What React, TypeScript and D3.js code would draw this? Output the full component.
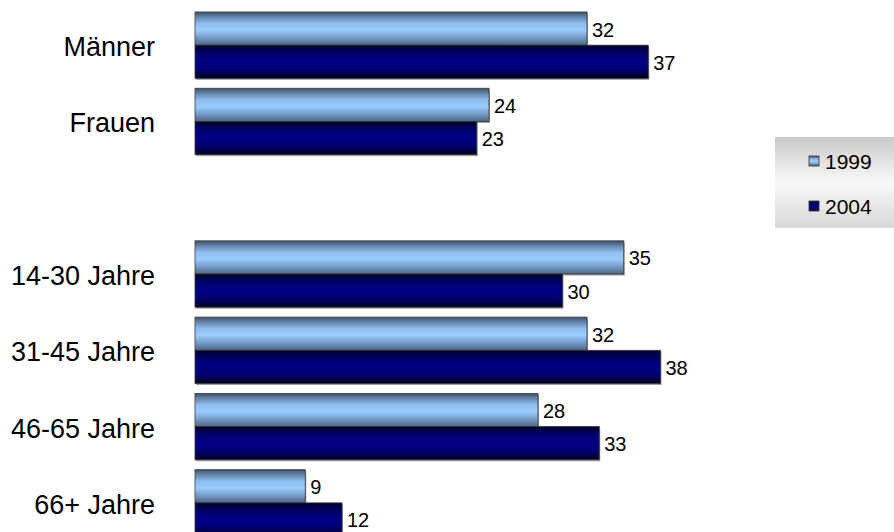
import React from "react";
import * as d3 from "d3";

const categories = ["Männer", "Frauen", "", "14-30 Jahre", "31-45 Jahre", "46-65 Jahre", "66+ Jahre"];
const values1999 = [32, 24, null, 35, 32, 28, 9];
const values2004 = [37, 23, null, 30, 38, 33, 12];
const seriesNames = ["1999", "2004"];

const W = 894;
const H = 532;

export default function App() {
  const x = d3.scaleLinear().domain([0, 40]).range([195, 685]);
  const keys = categories.map((c, i) => c + "#" + i);
  const y = d3.scaleBand<string>().domain(keys).range([7, 541]).paddingInner(0.13).paddingOuter(0.065);
  const bw = y.bandwidth();
  const sub = bw / 2;
  const series = [values1999, values2004];
  const fills = ["url(#g1999)", "url(#g2004)"];

  return (
    <svg width={W} height={H} style={{ position: "absolute", left: 0, top: 0, fontFamily: "Arial, 'Liberation Sans', sans-serif" }}>
      <defs>
        <linearGradient id="g1999" x1="0" y1="0" x2="0" y2="1">
          <stop offset="0" stopColor="#3e5068" />
          <stop offset="0.15" stopColor="#6584a8" />
          <stop offset="0.35" stopColor="#8fbef0" />
          <stop offset="0.55" stopColor="#99ccff" />
          <stop offset="0.8" stopColor="#7196c0" />
          <stop offset="1" stopColor="#4d6482" />
        </linearGradient>
        <linearGradient id="g2004" x1="0" y1="0" x2="0" y2="1">
          <stop offset="0" stopColor="#000028" />
          <stop offset="0.2" stopColor="#000060" />
          <stop offset="0.45" stopColor="#000085" />
          <stop offset="0.7" stopColor="#000078" />
          <stop offset="1" stopColor="#000025" />
        </linearGradient>
        <linearGradient id="gLegend" x1="0" y1="0" x2="0" y2="1">
          <stop offset="0" stopColor="#c8c8c8" />
          <stop offset="0.5" stopColor="#f8f8f8" />
          <stop offset="1" stopColor="#d8d8d8" />
        </linearGradient>
      </defs>
      <rect x={0} y={0} width={W} height={H} fill="#ffffff" />
      {categories.map((c, i) => {
        const key = keys[i];
        const y0 = y(key)!;
        return (
          <g key={key}>
            {c && (
              <text x={155} y={y0 + bw / 2 + 2} textAnchor="end" dominantBaseline="central" fontSize={27} fill="#000">
                {c}
              </text>
            )}
            {series.map((s, j) => {
              const v = s[i];
              if (v == null) return null;
              const by = y0 + j * sub;
              const bx = x(0);
              const w = x(v) - x(0);
              return (
                <g key={j}>
                  <rect x={bx + 1} y={by + 1.5} width={w} height={sub} fill="#9a9a9a" />
                  <rect x={bx} y={by} width={w} height={sub} fill={fills[j]} stroke="#3a3a3a" strokeWidth={0.8} />
                  <text x={x(v) + 5} y={by + sub / 2 + 1} dominantBaseline="central" fontSize={20} fill="#000">
                    {v}
                  </text>
                </g>
              );
            })}
          </g>
        );
      })}
      <g>
        <rect x={775} y={137} width={125} height={91} fill="url(#gLegend)" />
        {seriesNames.map((n, j) => (
          <g key={n} transform={`translate(809, ${161 + j * 45})`}>
            <rect x={0} y={-5} width={10} height={10} fill={fills[j]} stroke="#333" strokeWidth={0.8} />
            <text x={16} y={0} dominantBaseline="central" fontSize={21} fill="#000">
              {n}
            </text>
          </g>
        ))}
      </g>
    </svg>
  );
}
